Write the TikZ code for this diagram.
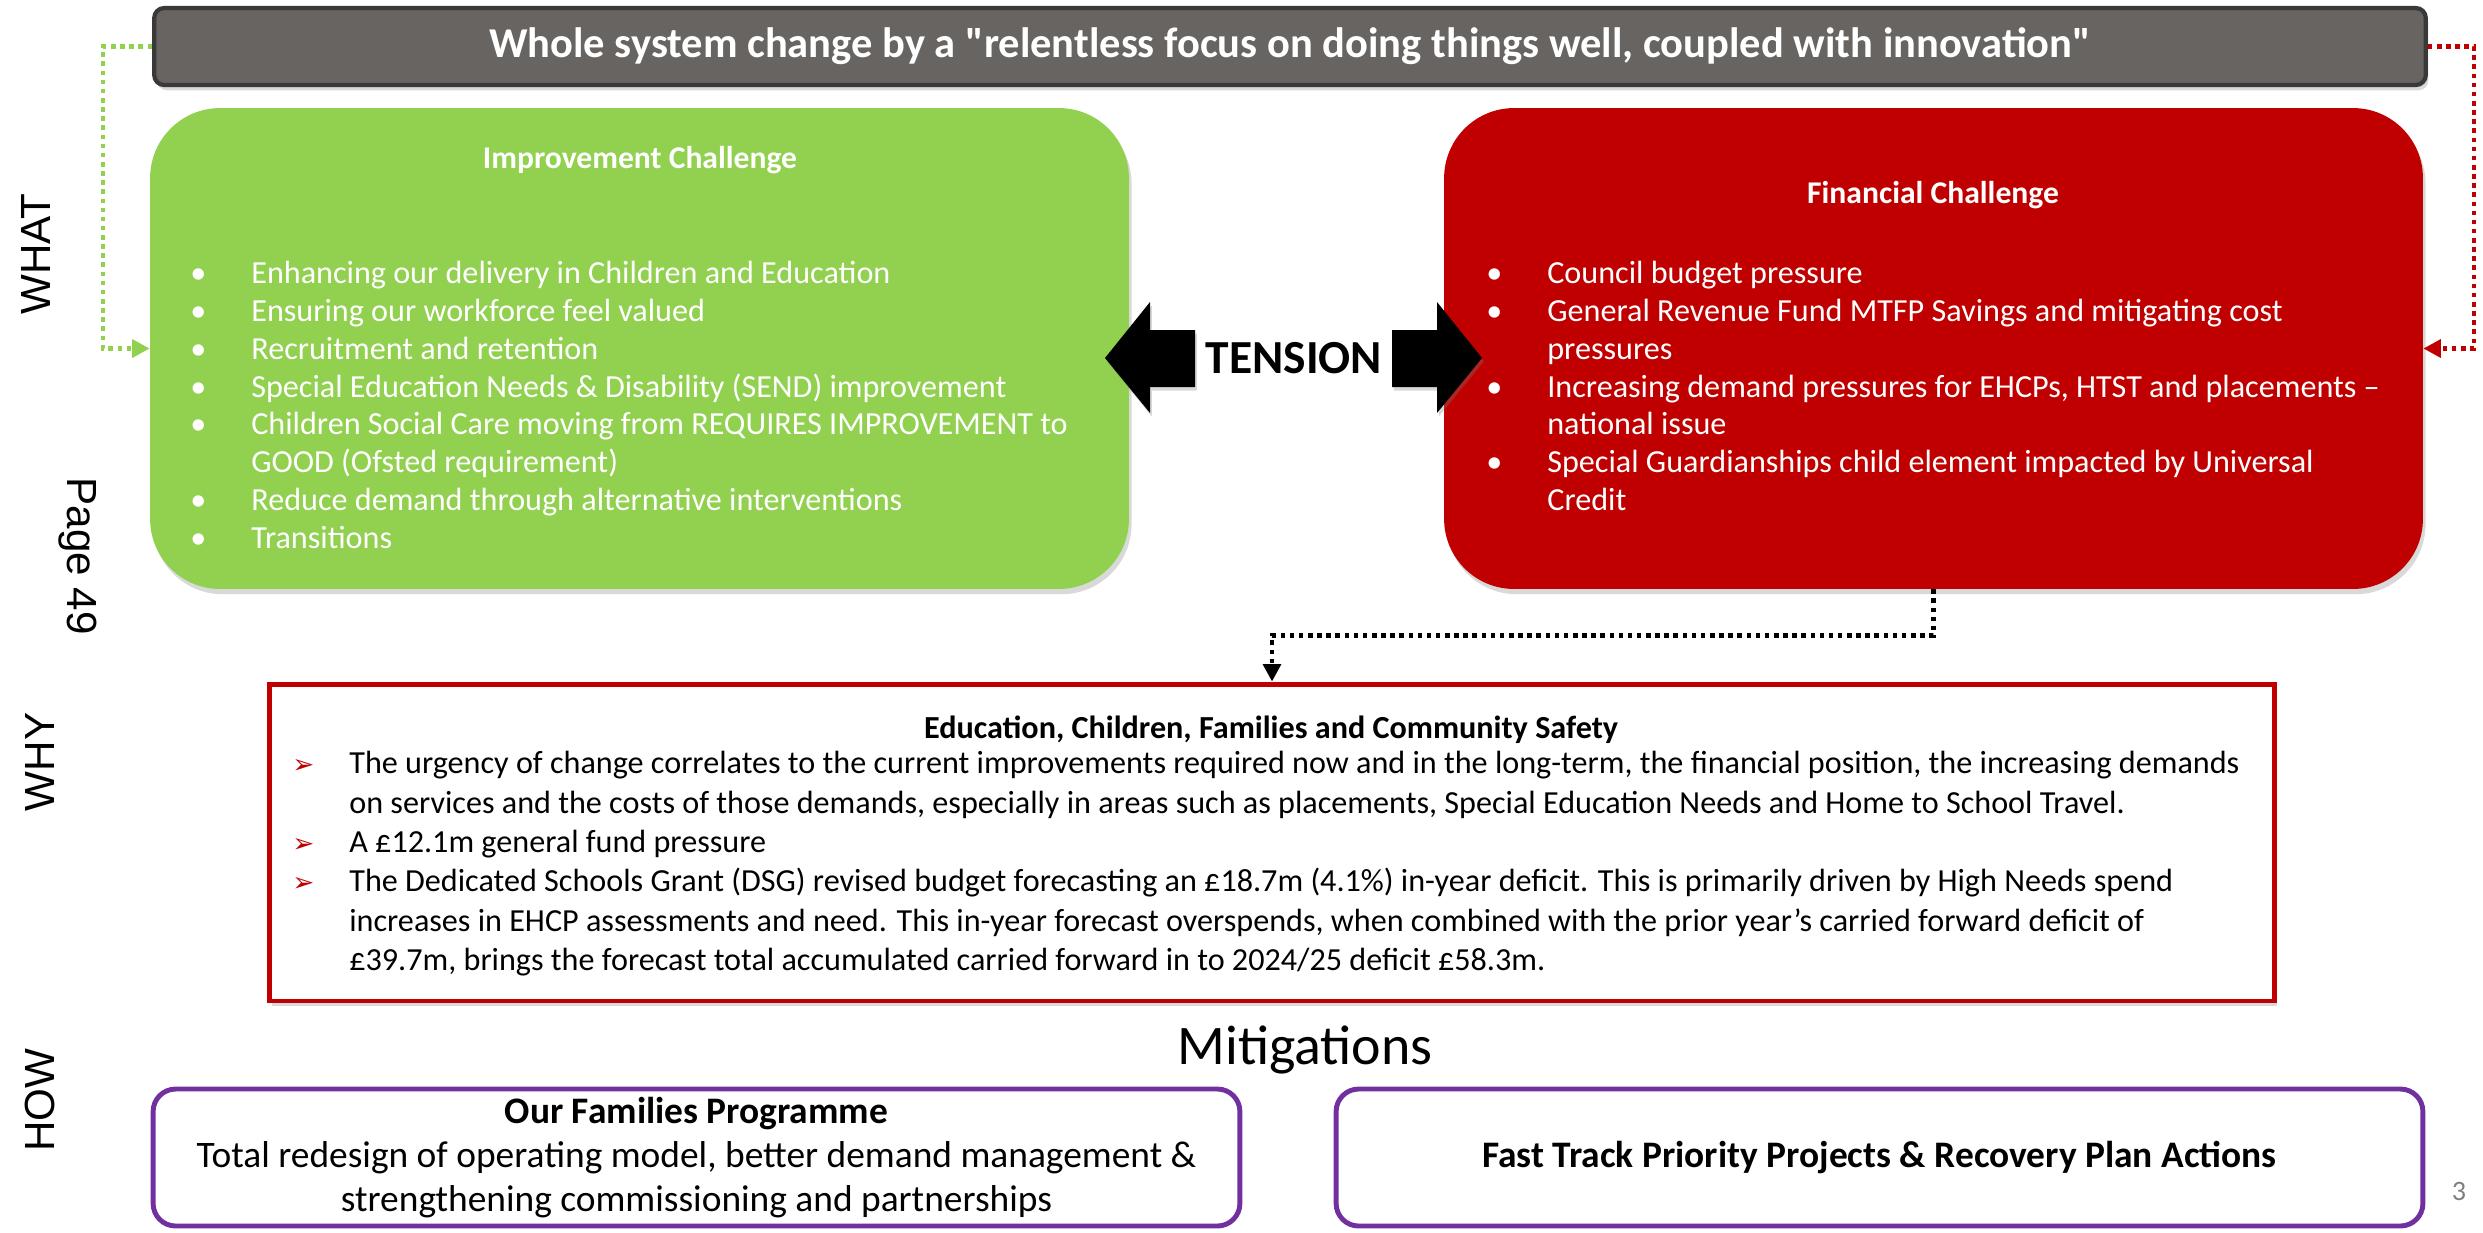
\documentclass[tikz,border=0pt]{standalone}
\usepackage{fontspec}
\setmainfont{Carlito}
\newfontfamily\straightfont{Carlito}
\newfontfamily\labelfont{Liberation Sans}
\newfontfamily\symfont{DejaVu Sans}
\usepackage{xcolor}
\usetikzlibrary{arrows.meta,positioning,shadows}

\definecolor{slidegreen}{HTML}{92D050}
\definecolor{slidered}{HTML}{C00000}
\definecolor{slidegrey}{HTML}{686461}
\definecolor{slidedark}{HTML}{3A3838}
\definecolor{slidepurple}{HTML}{7030A0}

\newcommand{\arrowbullet}{\makebox[1.14cm][l]{\symfont\fontsize{15}{15}\selectfont\color{slidered}➢}}
\newcommand{\roundbullet}{\makebox[1.22cm][l]{•}}

\begin{document}
\begin{tikzpicture}[x=0.02cm, y=-0.02cm,
  softshadow/.style={drop shadow={opacity=0.3, shadow xshift=1.5pt, shadow yshift=-3pt}},
  banner/.style={draw=slidedark, line width=2.4pt, fill=slidegrey, rounded corners=0.2cm, text=white,
    minimum width=45.44cm, minimum height=1.54cm, font=\straightfont\fontsize{24.2}{28}\selectfont\bfseries, softshadow},
  challenge/.style={rounded corners=1.4cm, minimum width=19.58cm, minimum height=9.62cm, softshadow},
  heading/.style={text=white, font=\fontsize{18}{22}\selectfont\bfseries},
  bullets/.style={anchor=north west, inner sep=0pt, text=white, font=\fontsize{18.3}{21.5}\selectfont},
  whybox/.style={draw=slidered, line width=2.8pt, fill=white, minimum width=40.12cm, minimum height=6.34cm, softshadow},
  howbox/.style={draw=slidepurple, line width=2.8pt, fill=white, rounded corners=0.45cm,
    minimum width=21.74cm, minimum height=2.74cm, align=center, font=\fontsize{21.3}{25.2}\selectfont},
  side/.style={font=\labelfont\fontsize{24}{28}\selectfont},
  link/.style={line width=2.6pt, dash pattern=on 2.6pt off 2.6pt, -{Triangle[length=10pt,width=10pt]}},
  tensionarrow/.style={fill=black, drop shadow={opacity=0.3, shadow xshift=1pt, shadow yshift=-2pt}}
]
\useasboundingbox (0,0) rectangle (2483,1232);

\node[banner] (banner) at (1290,46.5) {Whole system change by a "relentless focus on doing things well, coupled with innovation"};

\node[challenge, fill=slidegreen] (impr) at (639.5,348.5) {};
\node[challenge, fill=slidered] (fin) at (1933.5,348.5) {};

\node[heading] (impr-title) at (640,160) {Improvement Challenge};
\node[bullets] (impr-list) at (190,257) {%
\begin{tabular}{@{}l@{}l@{}}
\roundbullet & Enhancing our delivery in Children and Education\\
\roundbullet & Ensuring our workforce feel valued\\
\roundbullet & Recruitment and retention\\
\roundbullet & Special Education Needs \& Disability (SEND) improvement\\
\roundbullet & Children Social Care moving from REQUIRES IMPROVEMENT to\\
  & GOOD (Ofsted requirement)\\
\roundbullet & Reduce demand through alternative interventions\\
\roundbullet & Transitions
\end{tabular}};

\node[heading] (fin-title) at (1933,195) {Financial Challenge};
\node[bullets] (fin-list) at (1486,257) {%
\begin{tabular}{@{}l@{}l@{}}
\roundbullet & Council budget pressure\\
\roundbullet & General Revenue Fund MTFP Savings and mitigating cost\\
  & pressures\\
\roundbullet & Increasing demand pressures for EHCPs, HTST and placements –\\
  & national issue\\
\roundbullet & Special Guardianships child element impacted by Universal\\
  & Credit
\end{tabular}};

\node[font=\fontsize{27}{32}\selectfont\bfseries] (tension) at (1294,358) {TENSION};
\fill[tensionarrow] (1105,358) -- (1150,302) -- (1150,330) -- (1195,330) -- (1195,387) -- (1150,387) -- (1150,413) -- cycle;
\fill[tensionarrow] (1482,358) -- (1437,302) -- (1437,330) -- (1392,330) -- (1392,387) -- (1437,387) -- (1437,413) -- cycle;

\draw[link, slidegreen] (banner.west) -- ++(-49,0) |- (impr.west);
\draw[link, slidered] (banner.east) -- ++(46,0) |- (fin.east);

\node[whybox] (why) at (1272,842.5) {};
\draw[link, black] (fin.south) -- ++(0,46) -| (why.north);

\node[font=\fontsize{18.3}{22}\selectfont\bfseries] (why-title) at (1271,730) {Education, Children, Families and Community Safety};
\node[bullets, text=black, font=\fontsize{18.3}{22.4}\selectfont] (why-list) at (292,746) {%
\begin{tabular}{@{}l@{}l@{}}
\arrowbullet & The urgency of change correlates to the current improvements required now and in the long-term, the financial position, the increasing demands\\
  & on services and the costs of those demands, especially in areas such as placements, Special Education Needs and Home to School Travel.\\
\arrowbullet & A £12.1m general fund pressure\\
\arrowbullet & The Dedicated Schools Grant (DSG) revised budget forecasting an £18.7m (4.1\%) in-year deficit. This is primarily driven by High Needs spend\\
  & increases in EHCP assessments and need. This in-year forecast overspends, when combined with the prior year’s carried forward deficit of\\
  & £39.7m, brings the forecast total accumulated carried forward in to 2024/25 deficit £58.3m.
\end{tabular}};

\node[font=\fontsize{31.8}{36}\selectfont] (mitig) at (1305,1050) {Mitigations};
\node[howbox] (families) at (696.5,1157.5) {\textbf{Our Families Programme}\\Total redesign of operating model, better demand management \&\\strengthening commissioning and partnerships};
\node[howbox, font=\fontsize{21.3}{25.2}\selectfont\bfseries] (fasttrack) at (1879.5,1157.5) {Fast Track Priority Projects \& Recovery Plan Actions};

\node[side, rotate=90] (what) at (36,254) {WHAT};
\node[side, rotate=-90] (page) at (78,556) {Page 49};
\node[side, rotate=90] (whylabel) at (40,762) {WHY};
\node[side, rotate=90] (howlabel) at (40,1100) {HOW};
\node[text=gray, font=\fontsize{16}{20}\selectfont] (pagenum) at (2459,1191) {3};
\end{tikzpicture}
\end{document}
